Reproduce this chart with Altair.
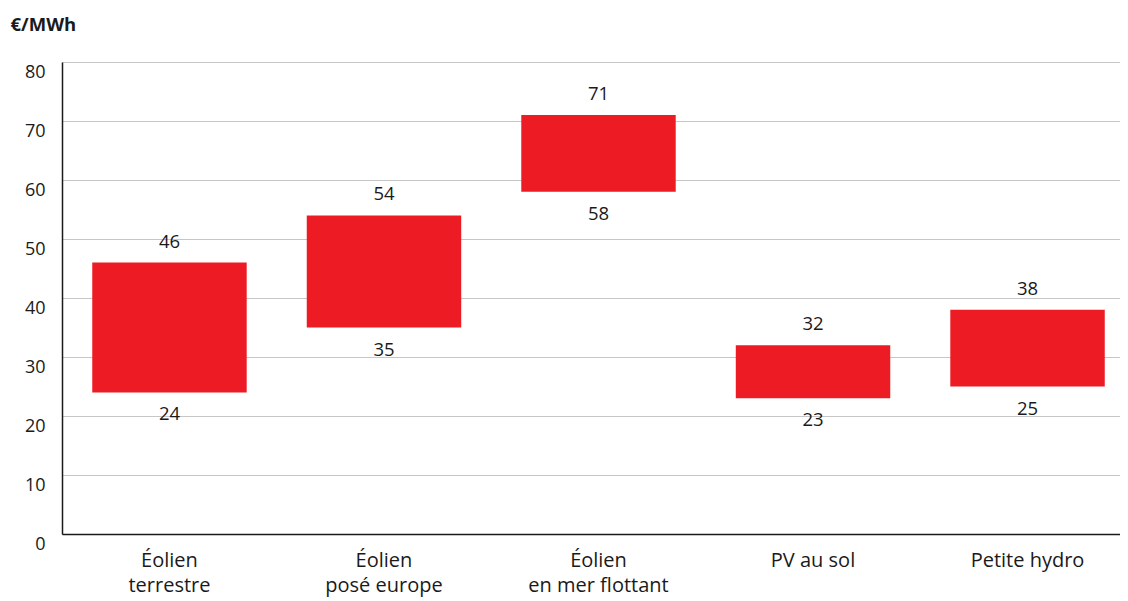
import altair as alt
import pandas as pd

categories = ["Éolien|terrestre", "Éolien|posé europe", "Éolien|en mer flottant", "PV au sol", "Petite hydro"]
low_values = [24, 35, 58, 23, 25]
high_values = [46, 54, 71, 32, 38]

df = pd.DataFrame({"cat": categories, "low": low_values, "high": high_values})

FONT = "Open Sans"
RED = "#ED1C24"
INK = "#1a1a1a"

x_scale = alt.Scale(paddingInner=0.28, paddingOuter=0.141, range=[0, 1073])

x_enc = alt.X("cat:N", sort=categories, title=None, scale=x_scale,
              axis=alt.Axis(labelExpr="split(datum.label, '|')", labelAngle=0,
                            labelFont=FONT, labelFontSize=20, labelColor=INK,
                            labelPadding=16, labelLineHeight=25, ticks=False,
                            domainColor=INK, domainWidth=1.5, grid=False,
                            labelBaseline="top"))

y_scale = alt.Scale(domain=[0, 80], nice=False)

bars = alt.Chart(df).mark_bar(color=RED).encode(
    x=x_enc,
    y=alt.Y("low:Q", scale=y_scale,
            axis=alt.Axis(values=[0, 10, 20, 30, 40, 50, 60, 70, 80], title="€/MWh",
                          titleAngle=0, titleX=-52, titleY=-38, titleAlign="left",
                          titleBaseline="middle", titleFont=FONT, titleFontSize=18.5,
                          titleFontWeight="bold", titleColor=INK,
                          labelFont=FONT, labelFontSize=18, labelColor=INK,
                          labelPadding=17, labelOffset=10, ticks=False,
                          domainColor=INK, domainWidth=1.5,
                          grid=True, gridColor="#c6c6c6", gridWidth=1.2)),
    y2="high:Q",
)

top_labels = alt.Chart(df).mark_text(font=FONT, fontSize=18.5, color=INK,
                                     baseline="alphabetic", dy=-15).encode(
    x=alt.X("cat:N", sort=categories, scale=x_scale),
    y=alt.Y("high:Q", scale=y_scale),
    text=alt.Text("high:Q"),
)

bottom_labels = alt.Chart(df).mark_text(font=FONT, fontSize=18.5, color=INK,
                                        baseline="alphabetic", dy=28).encode(
    x=alt.X("cat:N", sort=categories, scale=x_scale),
    y=alt.Y("low:Q", scale=y_scale),
    text=alt.Text("low:Q"),
)

chart = alt.layer(bars, top_labels, bottom_labels).properties(
    width=1058, height=472,
    autosize=alt.AutoSizeParams(type="none"),
    padding={"left": 54, "top": 54, "right": 0, "bottom": 65},
).configure_view(stroke=None).configure(background="white")

chart.save("out.html", embed_options={"renderer": "svg", "actions": False})
